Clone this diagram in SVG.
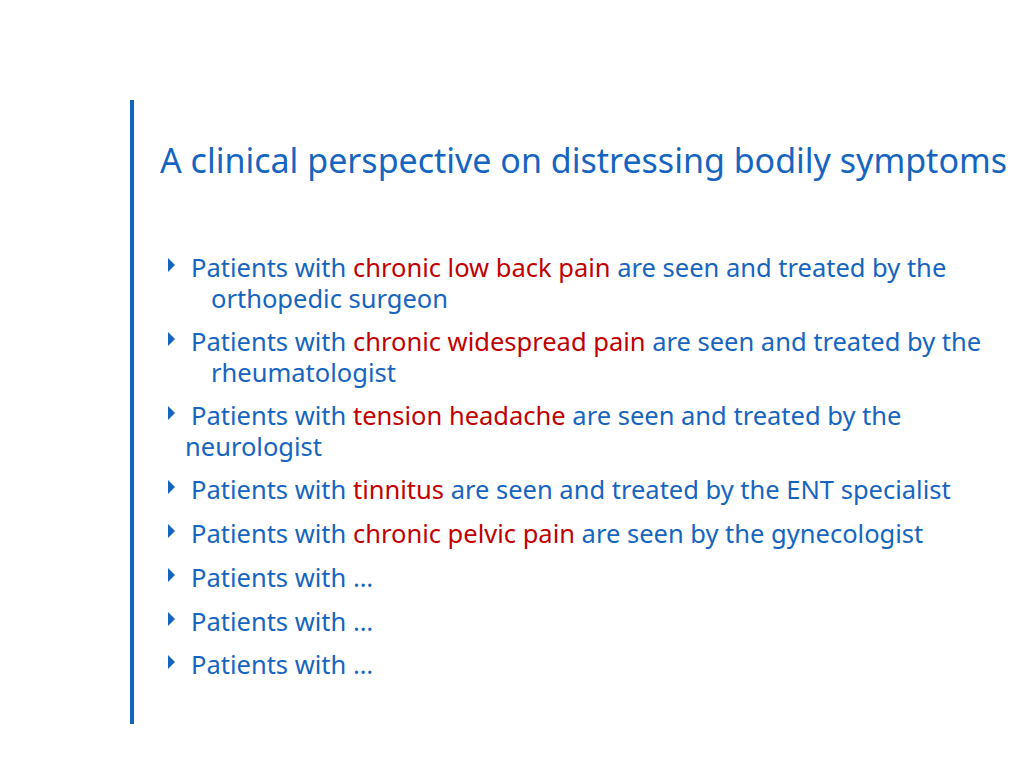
<svg xmlns="http://www.w3.org/2000/svg" width="1024" height="768" viewBox="0 0 1024 768">
<style>
text{font-family:"Noto Sans","Open Sans",sans-serif;fill:#1565c0}
.b{font-size:25.5px}
.r{fill:#c00000}
.t{font-size:34px}
</style>
<defs><path id="tri" d="M0,-7 L7,0 L0,7 Z" fill="#1565c0"/></defs>
<rect width="1024" height="768" fill="#fff"/>
<rect x="130" y="100" width="4" height="624" fill="#1565c0"/>
<text class="t" x="160" y="173">A clinical perspective on distressing bodily symptoms</text>
<g class="b">
<use href="#tri" x="168" y="265"/><use href="#tri" x="168" y="339"/><use href="#tri" x="168" y="413"/><use href="#tri" x="168" y="487"/><use href="#tri" x="168" y="531"/><use href="#tri" x="168" y="575"/><use href="#tri" x="168" y="619"/><use href="#tri" x="168" y="662"/>
<text class="b" x="191" y="277">Patients with <tspan class="r">chronic low back pain</tspan> are seen and treated by the</text>
<text class="b" x="211" y="308">orthopedic surgeon</text>
<text class="b" x="191" y="351">Patients with <tspan class="r">chronic widespread pain</tspan> are seen and treated by the</text>
<text class="b" x="211" y="382">rheumatologist</text>
<text class="b" x="191" y="425">Patients with <tspan class="r">tension headache</tspan> are seen and treated by the</text>
<text class="b" x="185" y="456">neurologist</text>
<text class="b" x="191" y="499">Patients with <tspan class="r">tinnitus</tspan> are seen and treated by the ENT specialist</text>
<text class="b" x="191" y="543">Patients with <tspan class="r">chronic pelvic pain</tspan> are seen by the gynecologist</text>
<text class="b" x="191" y="587">Patients with …</text>
<text class="b" x="191" y="631">Patients with …</text>
<text class="b" x="191" y="674">Patients with …</text>
</g>
</svg>
